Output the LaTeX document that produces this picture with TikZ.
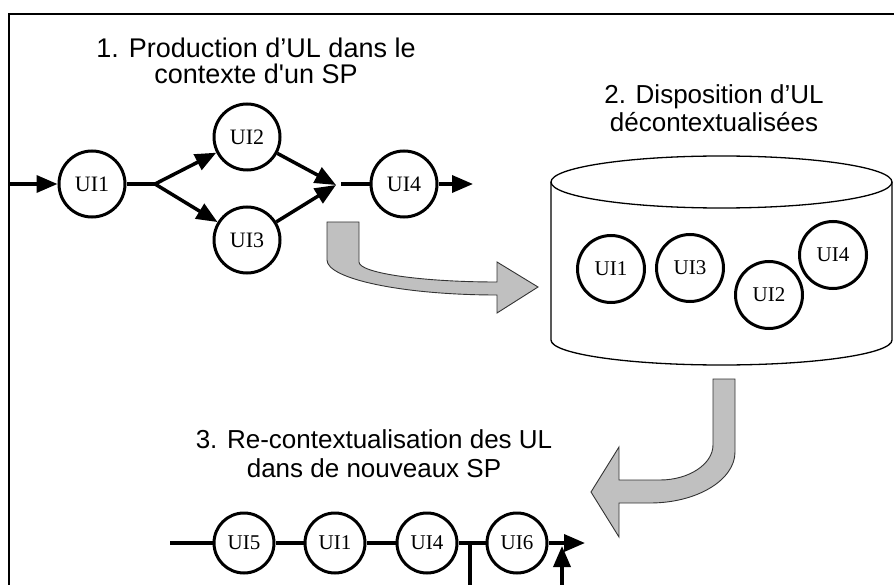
\documentclass[tikz,border=0pt]{standalone}
\usepackage{fontspec}
\setmainfont{Liberation Serif}
\newfontfamily\arialf{Liberation Sans}
\usetikzlibrary{arrows.meta}
\definecolor{arrowgray}{RGB}{192,192,192}
\tikzset{
  ui/.style={circle, draw, line width=3pt, inner sep=0pt, minimum size=66pt, font=\fontsize{22}{24}\selectfont},
  uib/.style={ui, minimum size=60pt, font=\fontsize{21}{23}\selectfont},
  uic/.style={ui, minimum size=67pt, font=\fontsize{21}{23}\selectfont},
  conn/.style={line width=3.5pt},
  tip/.style={-{Triangle[length=21pt,width=17pt]}},
  title/.style={font=\arialf\fontsize{26}{28}\selectfont, align=center, inner sep=0pt, anchor=north},
  bigarrow/.style={fill=arrowgray, draw=black!80, line width=0.9pt, line join=miter},
  frameline/.style={line width=2pt},
  cyl/.style={line width=1.3pt}
}
\begin{document}
\begin{tikzpicture}[x=1pt,y=-1pt]
\useasboundingbox (0,0) rectangle (894,585);
% frame
\coordinate (fb) at (9,590);
\coordinate (fc) at (9,14);
\coordinate (fr) at (896,14);
\draw[frameline] (fb) -- (fc) -- (fr);

% titles
\node[title, font=\arialf\fontsize{27}{26}\selectfont] (t1) at (256,38) {1. Production d’UL dans le\\contexte d'un SP};
\node[title] (t2) at (714,84) {2. Disposition d’UL\\décontextualisées};
\node[title, font=\arialf\fontsize{26}{29}\selectfont] (t3) at (374,429) {3. Re-contextualisation des UL\\dans de nouveaux SP};

% top flow
\node[ui] (a1) at (92,184) {UI1};
\node[ui] (a2) at (247,137) {UI2};
\node[ui] (a3) at (247,240) {UI3};
\node[ui] (a4) at (404,184) {UI4};
\coordinate (in) at (10,184);
\coordinate (br) at (155,184);
\coordinate (mg) at (336,185);
\coordinate (mg2) at (341,184);
\coordinate (out) at (473,184);
\draw[conn,tip] (in) -- (a1);
\draw[conn] (a1) -- (br);
\draw[conn,tip] (br) -- (a2);
\draw[conn,tip] (br) -- (a3);
\draw[conn,tip] (a2) -- (mg);
\draw[conn,tip] (a3) -- (mg);
\draw[conn] (mg2) -- (a4);
\draw[conn,tip] (a4) -- (out);

% gray arrow 1
\draw[bigarrow] (327,222) -- (327,260) .. controls (327,279) and (403,295) .. (497,295)
  -- (497,313) -- (538,287) -- (497,262) -- (497,282)
  .. controls (421,282) and (359,273) .. (359,262) -- (359,222) -- cycle;

% cylinder
\draw[cyl] (551,182) -- (551,340) arc[start angle=180, end angle=360, x radius=170.5pt, y radius=25pt] -- (892,182);
\draw[cyl] (721.5,182) ellipse[x radius=170.5pt, y radius=26pt];
\node[uic] (c1) at (611,269) {UI1};
\node[uic] (c3) at (690,268) {UI3};
\node[uic] (c2) at (769,295) {UI2};
\node[uic] (c4) at (833,255) {UI4};

% gray arrow 2
\draw[bigarrow] (713,379) -- (735,379) -- (735,452) .. controls (735,480) and (697,503) .. (650,503)
  -- (619,503) -- (619,537) -- (591,492) -- (619,447) -- (619,480) -- (660,480)
  .. controls (689,480) and (713,464) .. (713,445) -- cycle;

% bottom flow
\node[uib] (b5) at (244,543) {UI5};
\node[uib] (b1) at (335,543) {UI1};
\node[uib] (b4) at (427,543) {UI4};
\node[uib] (b6) at (517,543) {UI6};
\coordinate (bs) at (170,543);
\coordinate (bo) at (585,543);
\coordinate (tj) at (470,543);
\coordinate (tjb) at (470,592);
\coordinate (ub) at (562,592);
\coordinate (ut) at (562,546);
\draw[conn] (bs) -- (b5);
\draw[conn] (b5) -- (b1);
\draw[conn] (b1) -- (b4);
\draw[conn] (b4) -- (b6);
\draw[conn,tip] (b6) -- (bo);
\draw[conn] (tj) -- (tjb);
\draw[conn,tip] (ub) -- (ut);
\end{tikzpicture}
\end{document}
